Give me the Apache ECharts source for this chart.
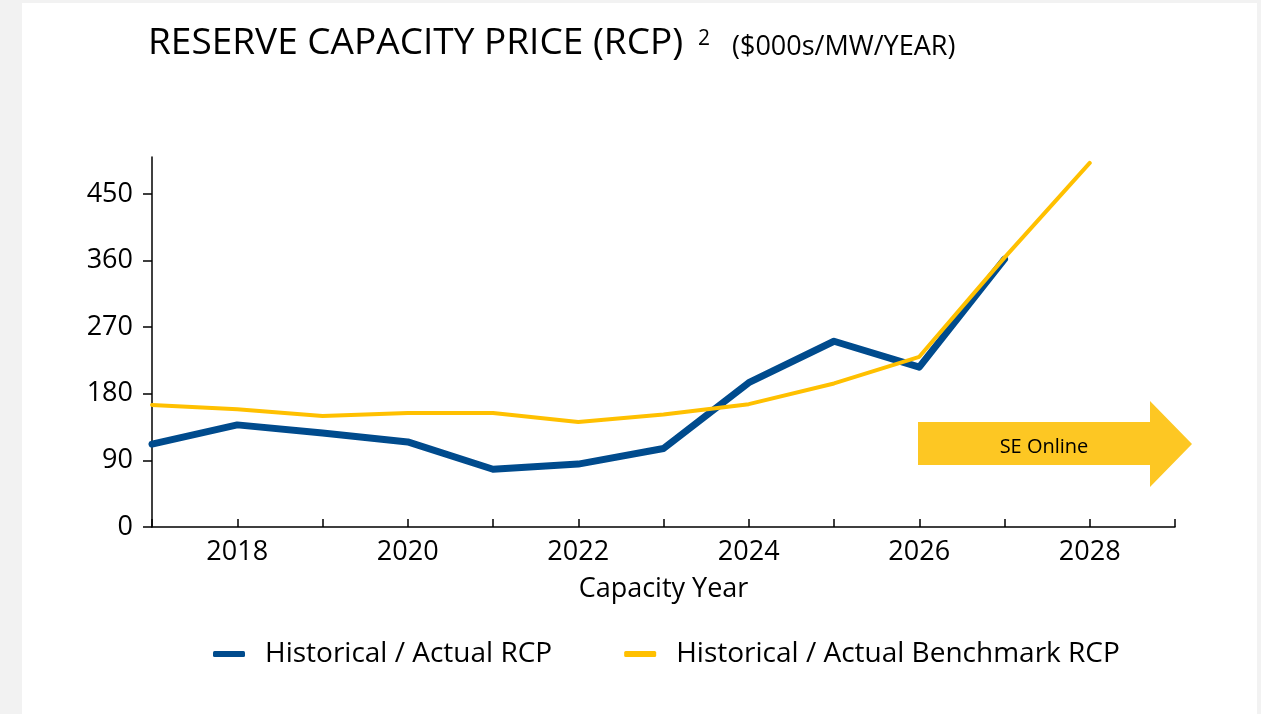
<!DOCTYPE html>
<html>
<head>
<meta charset="utf-8">
<script src="https://cdn.jsdelivr.net/npm/echarts@6/dist/echarts.min.js"></script>
<style>
html,body{margin:0;padding:0;background:#f2f2f2;}
#chart{width:1261px;height:714px;}
</style>
</head>
<body>
<div id="chart"></div>
<script>
const years = [2017, 2018, 2019, 2020, 2021, 2022, 2023, 2024, 2025, 2026, 2027, 2028];
const actualRCP = [112, 138, 127, 115, 78, 85, 106, 195, 251, 216, 362];
const benchmarkRCP = [165, 159, 150, 154, 154, 142, 152, 166, 194, 230, 364, 492];
const yTicks = [0, 90, 180, 270, 360, 450];
const xLabelYears = [2018, 2020, 2022, 2024, 2026, 2028];
const seriesNames = ['Historical / Actual RCP', 'Historical / Actual Benchmark RCP'];

const FONT = '"Open Sans", sans-serif';
const chart = echarts.init(document.getElementById('chart'), null, {renderer: 'canvas'});

const toPairs = (vals) => vals.map((v, i) => [years[i], v]);

chart.setOption({
  backgroundColor: '#f2f2f2',
  animation: false,
  textStyle: {fontFamily: FONT, color: '#000'},
  graphic: [
    {type: 'rect', z: -10, shape: {x: 22, y: 3, width: 1235, height: 711}, style: {fill: '#ffffff'}},
    {type: 'text', left: 148, top: 25, style: {text: 'RESERVE CAPACITY PRICE (RCP)', font: '37px "Open Sans"', fill: '#000'}},
    {type: 'text', left: 698, top: 29, style: {text: '2', font: '21px "Open Sans"', fill: '#000'}},
    {type: 'text', left: 732, top: 34, style: {text: '($000s/MW/YEAR)', font: '27px "Open Sans"', fill: '#000'}},
    {type: 'polygon', z: 5, shape: {points: [[918,422],[1150,422],[1150,401],[1192,444],[1150,487],[1150,465],[918,465]]}, style: {fill: '#fdc723'}},
    {type: 'text', z: 6, x: 1044, y: 447, style: {text: 'SE Online', font: '20px "Open Sans"', fill: '#000', align: 'center', verticalAlign: 'middle'}}
  ],
  legend: {
    left: 213, top: 640, padding: 0,
    itemWidth: 32, itemHeight: 6, itemGap: 72,
    icon: 'roundRect',
    textStyle: {fontSize: 28, fontFamily: FONT, color: '#000', padding: [0, 0, 0, 15]},
    data: seriesNames
  },
  grid: {left: 152, right: 86, top: 157, bottom: 187, containLabel: false},
  xAxis: {
    type: 'value', min: 2017, max: 2029, interval: 1,
    name: 'Capacity Year', nameLocation: 'middle', nameGap: 49,
    nameTextStyle: {fontSize: 27, fontFamily: FONT, color: '#000'},
    axisLine: {lineStyle: {color: '#000', width: 1.5}},
    axisTick: {inside: true, length: 8, lineStyle: {color: '#000', width: 1.5}},
    splitLine: {show: false},
    axisLabel: {
      fontSize: 27, fontFamily: FONT, color: '#000', margin: 12,
      formatter: (v) => xLabelYears.indexOf(v) >= 0 ? String(v) : ''
    }
  },
  yAxis: {
    type: 'value', min: 0, max: 500, interval: 90,
    axisLine: {show: true, lineStyle: {color: '#000', width: 1.5}},
    axisTick: {show: true, length: 9, lineStyle: {color: '#000', width: 1.5}, customValues: yTicks},
    splitLine: {show: false},
    axisLabel: {fontSize: 27, fontFamily: FONT, color: '#000', margin: 19, padding: [7, 0, 0, 0], customValues: yTicks}
  },
  series: [
    {
      name: seriesNames[0], type: 'line', data: toPairs(actualRCP), symbol: 'none',
      lineStyle: {color: '#004b8d', width: 7, cap: 'round', join: 'round'},
      itemStyle: {color: '#004b8d'}, z: 2
    },
    {
      name: seriesNames[1], type: 'line', data: toPairs(benchmarkRCP), symbol: 'none',
      lineStyle: {color: '#ffc000', width: 4, cap: 'round', join: 'round'},
      itemStyle: {color: '#ffc000'}, z: 3
    }
  ]
});
</script>
</body>
</html>
